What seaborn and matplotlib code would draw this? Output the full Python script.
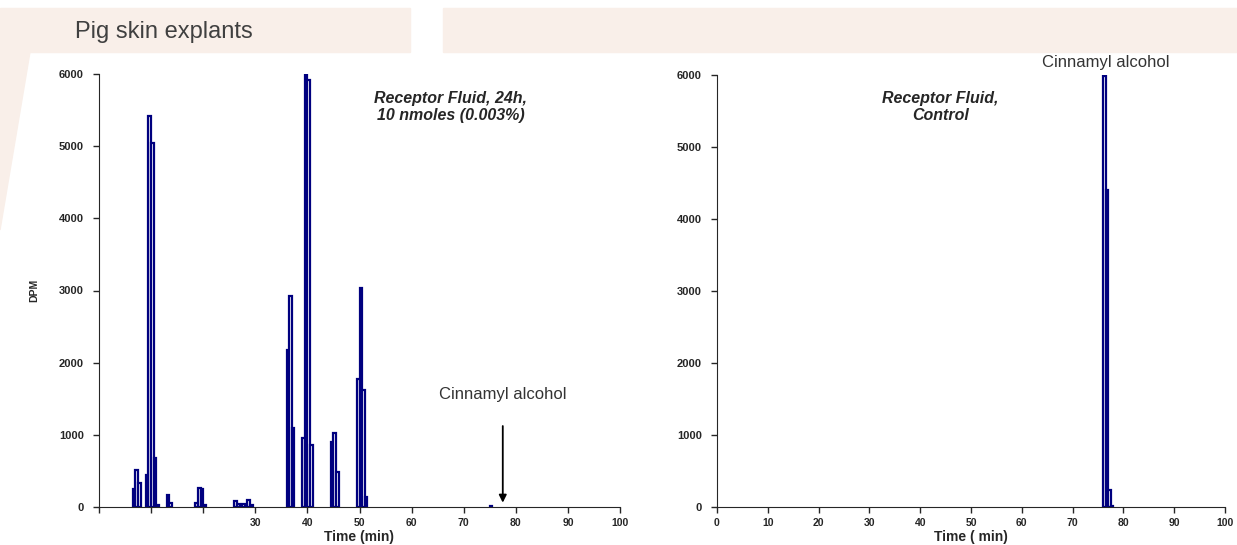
import numpy as np
import pandas as pd
import seaborn as sns
import matplotlib.pyplot as plt
from matplotlib.patches import Polygon

# dati (centro della frazione in min, DPM)
left_time = [6.75, 7.25, 7.75, 9.25, 9.75, 10.25, 10.75, 11.25, 13.25, 13.75,
             18.75, 19.25, 19.75, 20.25, 26.25, 26.75, 27.25, 27.75, 28.75, 29.25,
             36.25, 36.75, 37.25, 39.25, 39.75, 40.25, 40.75, 44.75, 45.25, 45.75,
             49.75, 50.25, 50.75, 51.25, 75.25]
left_dpm = [250, 510, 330, 440, 5420, 5050, 680, 30, 160, 55,
            50, 270, 245, 30, 80, 45, 20, 40, 100, 30,
            2180, 2930, 1090, 950, 6000, 5910, 860, 900, 1020, 490,
            1770, 3030, 1620, 135, 20]

right_time = [76.25, 76.75, 77.25, 77.75]
right_dpm = [5980, 4400, 230, 20]

x_ticks = [0, 10, 20, 30, 40, 50, 60, 70, 80, 90, 100]
left_xlabels = ["", "", "", "30", "40", "50", "60", "70", "80", "90", "100"]
right_xlabels = ["0", "10", "20", "30", "40", "50", "60", "70", "80", "90", "100"]
y_ticks = [0, 1000, 2000, 3000, 4000, 5000, 6000]

sns.set_style("ticks")
plt.rcParams["font.family"] = ["Liberation Sans", "DejaVu Sans"]

W, H = 1237, 545
fig = plt.figure(figsize=(W / 100, H / 100), dpi=100)

# sfondo tipo slide (forme beige chiare)
beige = "#f9efe9"
fig.patches.append(Polygon([(0, 1 - 8 / H), (410 / W, 1 - 8 / H), (410 / W, 1 - 52 / H), (0, 1 - 52 / H)],
                           closed=True, transform=fig.transFigure, color=beige, zorder=-5))
fig.patches.append(Polygon([(443 / W, 1 - 8 / H), (1, 1 - 8 / H), (1, 1 - 52 / H), (443 / W, 1 - 52 / H)],
                           closed=True, transform=fig.transFigure, color=beige, zorder=-5))
fig.patches.append(Polygon([(0, 1 - 52 / H), (30 / W, 1 - 52 / H), (0, 1 - 230 / H)],
                           closed=True, transform=fig.transFigure, color=beige, zorder=-5))

fig.text(75 / W, 1 - 32 / H, "Pig skin explants", fontsize=17, color="#404040", va="center", ha="left")

ax1 = fig.add_axes([99 / W, 1 - 507 / H, (620 - 99) / W, (507 - 74) / H])
ax2 = fig.add_axes([717 / W, 1 - 507 / H, (1225 - 717) / W, (507 - 75) / H])

df_left = pd.DataFrame({"time": left_time, "dpm": left_dpm})
df_right = pd.DataFrame({"time": right_time, "dpm": right_dpm})

for ax, df in [(ax1, df_left), (ax2, df_right)]:
    sns.histplot(data=df, x="time", weights="dpm", binwidth=0.5, binrange=(0, 100), ax=ax,
                 color="white", edgecolor="#00007f", linewidth=1.6, alpha=1)
    # tolgo le barre vuote
    for p in list(ax.patches):
        if p.get_height() == 0:
            p.remove()
    ax.set_xlim(0, 100)
    ax.set_ylim(0, 6000)
    ax.set_yticks(y_ticks)
    ax.set_xticks(x_ticks)
    sns.despine(ax=ax)
    ax.tick_params(axis="y", direction="out", length=4, width=1, labelsize=8, pad=7)
    ax.tick_params(axis="x", direction="out", length=4, width=1, labelsize=7.5, pad=4)
    for lab in ax.get_yticklabels():
        lab.set_fontweight("bold")
    ax.set_ylabel("")
    ax.patch.set_alpha(0)

ax1.set_xticklabels(left_xlabels, fontweight="bold", fontsize=7.5)
ax2.set_xticklabels(right_xlabels, fontweight="bold", fontsize=7.5)

ax1.set_xlabel("Time (min)", fontsize=10, fontweight="bold", labelpad=1)
ax2.set_xlabel("Time ( min)", fontsize=10, fontweight="bold", labelpad=1)
ax1.set_ylabel("DPM", fontsize=7.5, fontweight="bold", labelpad=14)

ax1.text(67.5, 5540, "Receptor Fluid, 24h,\n10 nmoles (0.003%)", ha="center", va="center",
         fontsize=11.5, style="italic", fontweight="bold", linespacing=1.15)
ax2.text(44, 5560, "Receptor Fluid,\nControl", ha="center", va="center",
         fontsize=11.5, style="italic", fontweight="bold", linespacing=1.15)

ax1.annotate("Cinnamyl alcohol", xy=(77.5, 60), xytext=(77.5, 1560), ha="center", va="center",
             fontsize=12, color="#333333",
             arrowprops=dict(arrowstyle="-|>", color="black", lw=1.3, mutation_scale=11,
                             shrinkA=15, shrinkB=0))
ax2.text(76.5, 6180, "Cinnamyl alcohol", ha="center", va="center", fontsize=12,
         color="#333333", clip_on=False)

fig.savefig("out.png", dpi=100)
